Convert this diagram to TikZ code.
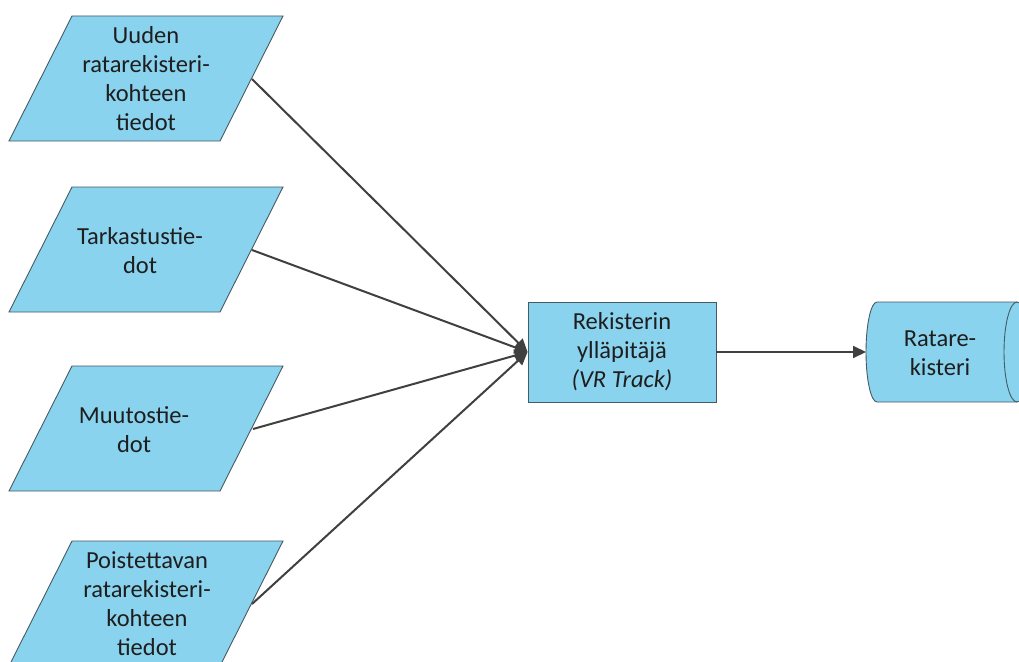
\documentclass[tikz,border=0pt]{standalone}
\usepackage{fontspec}
\setmainfont{Carlito}
\usetikzlibrary{arrows.meta}
\definecolor{boxfill}{RGB}{137,211,238}
\definecolor{boxline}{RGB}{70,90,100}
\definecolor{arrowc}{RGB}{64,64,64}
\definecolor{textc}{RGB}{30,30,30}
\begin{document}
\begin{tikzpicture}[x=1pt,y=-1pt,
  shapeline/.style={draw=boxline,fill=boxfill,line width=0.9pt},
  lbl/.style={align=center,text=textc,font=\fontsize{24.5}{29}\selectfont,inner sep=0pt},
  conn/.style={draw=arrowc,line width=2pt,-{Triangle[length=13pt,width=12pt]}}]
\clip (0,0) rectangle (1019,661);
\fill[white] (0,0) rectangle (1019,661);
% parallelograms
\foreach \t in {16,187,366,541}{
  \path[shapeline] (72,\t) -- (283,\t) -- (220,\t+125) -- (9,\t+125) -- cycle;
}
\node[lbl] (p1) at (146,79) {Uuden\\ratarekisteri-\\kohteen\\tiedot};
\node[lbl] (p2) at (140,251) {Tarkastustie-\\dot};
\node[lbl] (p3) at (134,430) {Muutostie-\\dot};
\node[lbl] (p4) at (147,604) {Poistettavan\\ratarekisteri-\\kohteen\\tiedot};
\coordinate (p1e) at (252,79);
\coordinate (p2e) at (252,250);
\coordinate (p3e) at (253,429);
\coordinate (p4e) at (252,604);
% register maintainer
\node[shapeline,minimum width=188pt,minimum height=100pt,inner sep=0pt] (rek) at (622,352) {};
\node[lbl] (rekt) at (rek.center) {Rekisterin\\ylläpitäjä\\\textit{(VR Track)}};
% cylinder
\path[shapeline] (1017,302) -- (877,302) arc[start angle=270,end angle=90,x radius=11,y radius=50] -- (1017,402) arc[start angle=90,end angle=-90,x radius=13,y radius=50] -- cycle;
\draw[boxline,line width=0.9pt] (1017,302) arc[start angle=270,end angle=90,x radius=13,y radius=50];
\coordinate (cyl) at (866,352);
\node[lbl] (cylt) at (940,353) {Ratare-\\kisteri};
% connectors
\draw[conn] (p1e) -- (rek.west);
\draw[conn] (p2e) -- (rek.west);
\draw[conn] (p3e) -- (rek.west);
\draw[conn] (p4e) -- (rek.west);
\draw[conn] (rek.east) -- (cyl);
\end{tikzpicture}
\end{document}
